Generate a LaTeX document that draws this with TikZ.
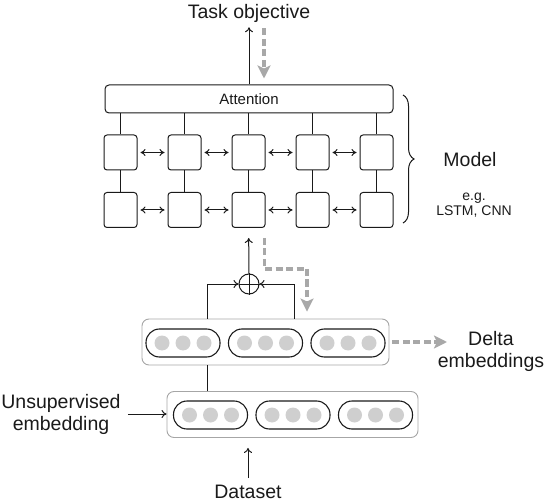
\documentclass[tikz,border=0pt]{standalone}
\usepackage{fontspec}
\setmainfont{Liberation Sans}
\usetikzlibrary{
  arrows.meta, calc, positioning, decorations.pathreplacing
}
\definecolor{linedark}{HTML}{1A1A1A}
\definecolor{groupgray}{HTML}{A6A6A6}
\definecolor{dotgray}{HTML}{CFCFCF}
\definecolor{gradgray}{HTML}{A8A8A8}
\tikzset{
  % Text labels
  biglabel/.style={
    font=\fontsize{19.5}{22}\selectfont, text=linedark,
    align=center, inner sep=2pt,
  },
  smalllabel/.style={
    font=\fontsize{14}{15}\selectfont, text=linedark,
    align=center, inner sep=1pt,
  },
  % Model blocks
  attnbox/.style={
    draw=linedark, fill=white, rounded corners=4pt,
    minimum width=288pt, minimum height=28pt,
    font=\fontsize{15}{16}\selectfont, text=linedark,
    inner sep=0pt, line width=1pt,
  },
  cellbox/.style={
    draw=linedark, fill=white, rounded corners=3pt,
    minimum width=33pt, minimum height=35pt,
    inner sep=0pt, line width=1pt,
  },
  sumnode/.style={
    draw=linedark, circle, minimum size=20pt,
    inner sep=0pt, line width=1pt,
  },
  % Embedding rows
  groupbox/.style={
    draw=groupgray, rounded corners=7pt,
    minimum width=#1, minimum height=46pt,
    inner sep=0pt, line width=0.9pt,
  },
  pillbox/.style={
    draw=linedark, rounded corners=13.5pt,
    minimum width=74pt, minimum height=28pt,
    inner sep=0pt, line width=1.1pt,
  },
  dotnode/.style={circle, fill=dotgray, minimum size=15pt, inner sep=0pt},
  % Arrows
  arr/.style={-{To[length=5pt, width=8pt]}, line width=1pt, linedark},
  dblarr/.style={{To[length=5pt, width=7pt]}-{To[length=5pt, width=7pt]},
                 line width=1pt, linedark, shorten <=3pt, shorten >=3pt},
  link/.style={line width=1pt, linedark},
  gradarr/.style={-{Stealth[length=13pt, width=13pt, inset=3pt]},
                  line width=3.2pt, gradgray, dash pattern=on 7pt off 3.5pt},
  bracedec/.style={decorate, decoration={brace, amplitude=11pt},
                   line width=1pt, linedark},
}

\begin{document}
\begin{tikzpicture}[x=1pt, y=-1pt]
  \useasboundingbox (0,0) rectangle (548,502);
  % Model stack
  \node[biglabel] (task) at (249,13) {Task objective};
  \node[attnbox] (attn) at (249,99) {Attention};
  \foreach \i in {1,...,5} {
    \node[cellbox] (top\i) at ({120.5+64*(\i-1)},152.5) {};
    \node[cellbox] (bot\i) at ({120.5+64*(\i-1)},210) {};
    \draw[link] (top\i |- attn.south) -- (top\i);
    \draw[link] (top\i) -- (bot\i);
  }
  \foreach \i [count=\j from 2] in {1,...,4} {
    \draw[dblarr] (top\i) -- (top\j);
    \draw[dblarr] (bot\i) -- (bot\j);
  }
  \draw[arr, shorten >=3pt] (attn) -- (task);
  \draw[gradarr, shorten <=4pt, shorten >=6pt]
    ([xshift=15pt]task.south) -- ([xshift=15pt]attn.north);

  % Delta embeddings
  \node[groupbox=247pt] (delta) at (265.5,342) {};
  \foreach \p in {1,2,3} {
    \node[pillbox] (dp\p) at ({183+82.5*(\p-1)},343) {};
    \foreach \k in {1,2,3}
      \node[dotnode] (dp\p-\k) at ($(dp\p)+({21*(\k-2)},0)$) {};
  }

  % Sum
  \node[sumnode] (sum) at (249,284) {};
  \draw[link] (sum.north) -- (sum.south);
  \draw[link] (sum.west) -- (sum.east);
  \draw[arr, shorten >=10pt] (sum) -- (bot3);
  \coordinate (lin) at ([xshift=-58.5pt]delta.north);
  \coordinate (rin) at ([xshift=28.5pt]delta.north);
  \draw[arr] (lin) |- (sum);
  \draw[arr] (rin) |- (sum);
  \coordinate (turn) at (307,269);
  \draw[gradarr, shorten <=10pt, shorten >=7pt]
    ([xshift=16pt]bot3.south) |- (turn) -- (turn |- delta.north);

  % Unsupervised embeddings
  \node[groupbox=251pt] (base) at (292.5,414.5) {};
  \foreach \p in {1,2,3} {
    \node[pillbox] (bp\p) at ({210.5+82.5*(\p-1)},415) {};
    \foreach \k in {1,2,3}
      \node[dotnode] (bp\p-\k) at ($(bp\p)+({21*(\k-2)},0)$) {};
  }
  \coordinate (mid) at ([xshift=-58.5pt]delta.south);
  \draw[link] (mid) -- (mid |- base.north);

  % Side labels
  \node[biglabel] (unsup) at (61,414) {Unsupervised\\embedding};
  \draw[arr, shorten <=5pt] (unsup.east) -- (unsup.east -| base.west);
  \node[biglabel] (data) at (248,492) {Dataset};
  \draw[arr, shorten <=5pt, shorten >=10pt] (data) -- (data |- base.south);
  \node[biglabel] (dlabel) at (491,351) {Delta\\embeddings};
  \coordinate (dtip) at (447,342);
  \draw[gradarr, shorten <=3pt] (delta.east) -- (dtip);

  % Model brace
  \coordinate (btop) at (403,95);
  \coordinate (bbot) at (403,223);
  \draw[bracedec] (btop) -- (bbot);
  \node[biglabel] (model) at (470,160) {Model};
  \node[smalllabel] (eg) at (474,205) {e.g.\\LSTM, CNN};
\end{tikzpicture}
\end{document}
